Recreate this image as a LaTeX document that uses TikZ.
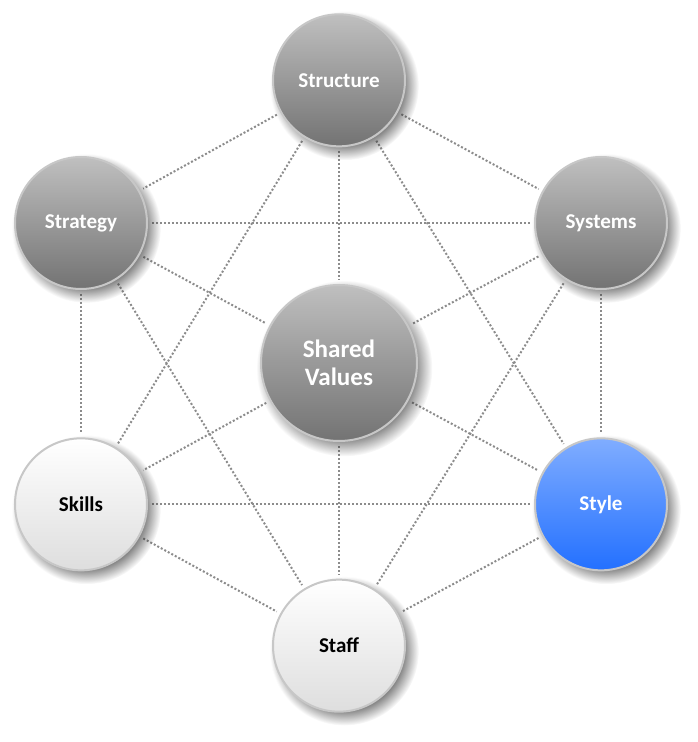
\documentclass[tikz,border=0pt]{standalone}
\usepackage{fontspec}
\setmainfont{Carlito}
\usetikzlibrary{shadows,fadings,backgrounds}
\pgfdeclareradialshading{softedgeshade}{\pgfpointorigin}{color(0pt)=(pgftransparent!0); color(15pt)=(pgftransparent!0); color(20pt)=(pgftransparent!45); color(25pt)=(pgftransparent!100); color(50pt)=(pgftransparent!100)}
\pgfdeclarefading{softedge}{\pgfuseshading{softedgeshade}}
\definecolor{styletop}{HTML}{80ADFF}
\definecolor{stylebottom}{HTML}{2370FF}
\tikzset{
	bubble/.style={circle, minimum size=99pt, inner sep=0pt, draw=black!22, line width=1.5pt,
		general shadow={shadow scale=1.13, shadow xshift=3.5pt, shadow yshift=-3.5pt, fill=black!85, path fading=softedge},
		font=\bfseries\fontsize{15.8}{18}\selectfont, align=center},
	dark/.style={bubble, top color=black!25, bottom color=black!55, text=white},
	light/.style={bubble, top color=white, bottom color=black!13, text=black},
	dotline/.style={draw=black!45, line width=1.5pt, dash pattern=on 1.5pt off 1.5pt, shorten >=3pt, shorten <=3pt}
}
\begin{document}
\begin{tikzpicture}[node distance=193.5pt]
	\useasboundingbox (-254.25pt,-284.25pt) rectangle (269.25pt,272.25pt);
	\node[dark, minimum size=117pt, font=\bfseries\fontsize{18.8}{21}\selectfont] (values) {Shared\\Values};
	\node[dark] (structure) [above of=values, node distance=212pt] {Structure};
	\node[light] (staff) [below of=values, node distance=212pt] {Staff};
	\node[dark] (strategy) [left of=values, yshift=105pt] {Strategy};
	\node[dark] (systems) [right of=values, node distance=196.5pt, yshift=105pt] {Systems};
	\node[light] (skills) [left of=values, yshift=-106pt] {Skills};
	\node[bubble, top color=styletop, bottom color=stylebottom, text=white] (style) [right of=values, node distance=196.5pt, yshift=-106pt] {Style};

	\begin{scope}[on background layer]
	\path[dotline]
		(structure) edge (strategy)
		(structure) edge (systems)
		(structure) edge (values)
		(structure) edge (skills)
		(structure) edge (style)
		(strategy) edge (systems)
		(strategy) edge (values)
		(strategy) edge (skills)
		(strategy) edge (staff)
		(systems) edge (values)
		(systems) edge (style)
		(systems) edge (staff)
		(values) edge (skills)
		(values) edge (style)
		(values) edge (staff)
		(skills) edge (style)
		(skills) edge (staff)
		(style) edge (staff)
	;
	\end{scope}
\end{tikzpicture}
\end{document}
